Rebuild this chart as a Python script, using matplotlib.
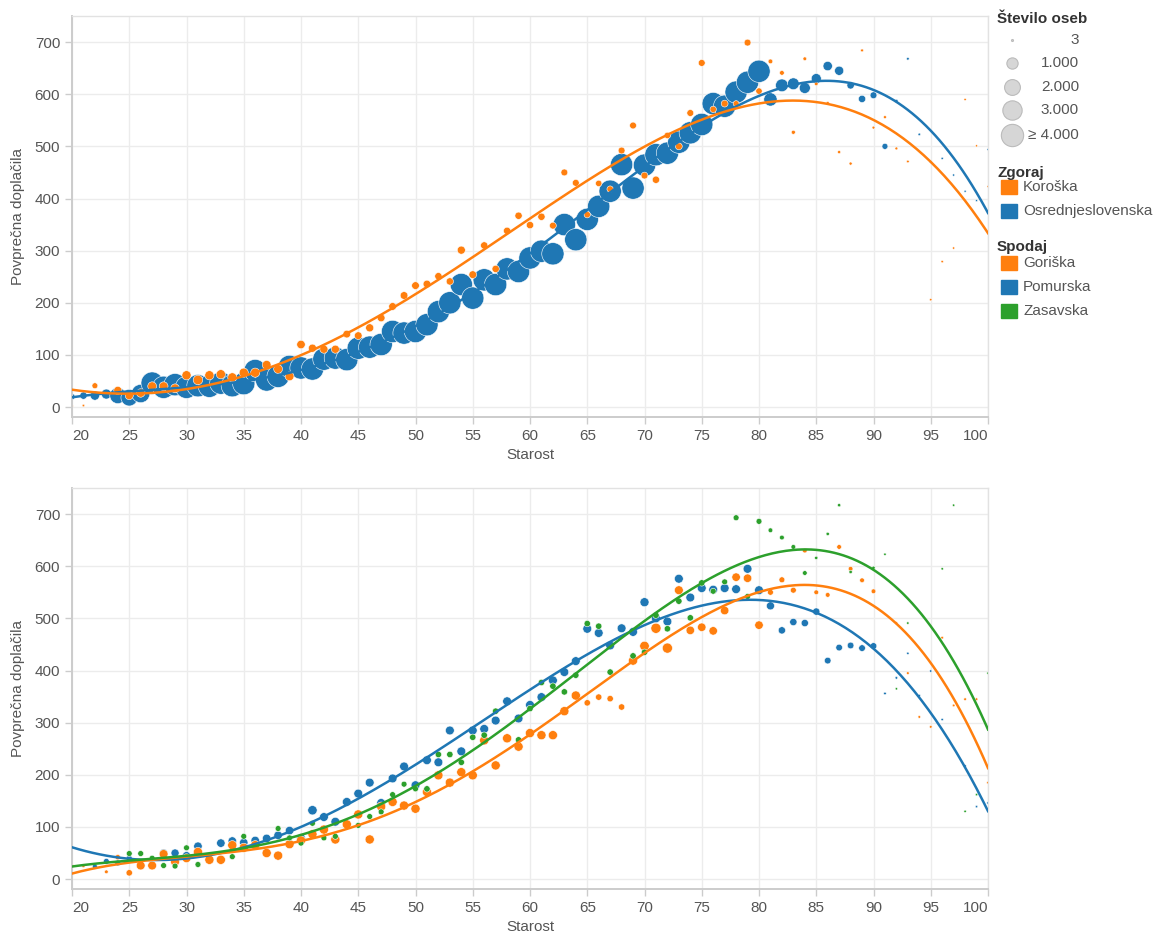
import numpy as np
import matplotlib
matplotlib.use("Agg")
import matplotlib.pyplot as plt

plt.rcParams['font.family'] = ['Liberation Sans', 'DejaVu Sans']

nan = np.nan
ages = np.arange(20, 101)

# --- zgoraj (top panel) ---
koroska = [2, 3, 41, nan, 32, 22, 27, 40, 40, 36,
           61, 52, 61, 63, 57, 66, 66, 81, 73, 59,
           120, 113, 111, 111, 140, 137, 152, 171, 193, 214,
           233, 236, 251, 241, 301, 254, 310, 265, 338, 367,
           349, 365, 348, 450, 430, 369, 429, 418, 492, 540,
           444, 436, 521, 500, 564, 660, 571, 582, 582, 699,
           606, 663, 641, 527, 668, 620, 583, 489, 467, 684,
           536, 556, 496, 471, nan, 206, 279, 305, 590, 501,
           423]
koroska_n = [20, 25, 250, 0, 500, 500, 550, 600, 600, 600,
             650, 700, 650, 650, 650, 650, 650, 600, 600, 600,
             550, 500, 500, 500, 450, 450, 500, 450, 450, 450,
             450, 450, 400, 400, 500, 450, 400, 400, 400, 400,
             400, 400, 350, 350, 350, 300, 300, 300, 350, 350,
             350, 400, 300, 350, 350, 350, 300, 350, 250, 350,
             300, 150, 150, 100, 80, 80, 50, 50, 50, 40,
             40, 40, 40, 30, 0, 20, 20, 15, 15, 10,
             5]

osrednjeslovenska = [20, 22, 22, 25, 22, 18, 26, 46, 38, 43,
                     38, 41, 40, 46, 41, 45, 70, 52, 59, 78,
                     75, 73, 92, 94, 91, 113, 115, 120, 145, 142,
                     145, 158, 183, 200, 235, 209, 244, 235, 265, 260,
                     286, 299, 294, 350, 321, 360, 385, 414, 465, 420,
                     464, 484, 487, 508, 526, 542, 582, 577, 604, 623,
                     644, 590, 617, 620, 612, 630, 654, 645, 617, 591,
                     598, 500, 587, 668, 523, 470, 477, 445, 414, 396,
                     494]
osrednjeslovenska_n = [260, 400, 650, 780, 2050, 2200, 2700, 4500, 4200, 4300,
                       4400, 4500, 4600, 4600, 4700, 4700, 4800, 4800, 4800, 4900,
                       4900, 5000, 5000, 5000, 5100, 5100, 5200, 5200, 5300, 5300,
                       5300, 5400, 5400, 5400, 5500, 5500, 5500, 5500, 5400, 5400,
                       5300, 5200, 5100, 5000, 4900, 4800, 4700, 4600, 4500, 4400,
                       4300, 4200, 4100, 4100, 4000, 4000, 4000, 4000, 4000, 4000,
                       4000, 1400, 1280, 1100, 950, 780, 680, 650, 410, 400,
                       350, 260, 60, 30, 25, 20, 15, 12, 10, 8,
                       6]

# --- spodaj (bottom panel) ---
goriska = [26, 25, nan, 14, 42, 12, 26, 26, 48, 33,
           40, 52, 37, 37, 65, 60, 65, 50, 45, 67,
           74, 86, 95, 76, 105, 124, 76, 139, 148, 141,
           135, 167, 199, 185, 205, 199, 266, 218, 270, 254,
           280, 276, 276, 322, 352, 338, 349, 346, 330, 419,
           447, 481, 443, 554, 477, 483, 476, 515, 579, 577,
           487, 550, 574, 554, 630, 550, 545, 637, 595, 573,
           552, nan, 491, 395, 311, 292, 463, 333, 345, 345,
           185]
goriska_n = [50, 50, 0, 80, 200, 300, 600, 600, 600, 600,
             600, 650, 650, 650, 650, 650, 650, 650, 650, 650,
             650, 650, 650, 650, 650, 650, 650, 650, 650, 650,
             650, 650, 650, 650, 650, 650, 650, 650, 650, 650,
             650, 650, 650, 650, 650, 300, 300, 300, 300, 650,
             700, 800, 800, 600, 550, 550, 550, 550, 550, 550,
             550, 250, 250, 250, 150, 150, 150, 150, 150, 150,
             150, 0, 30, 30, 30, 30, 30, 30, 30, 30,
             30]

pomurska = [nan, nan, 24, 34, 31, 40, nan, nan, 50, 50,
            45, 63, nan, 69, 73, 70, 74, 78, 84, 93,
            79, 132, 119, 110, 148, 164, 185, 146, 193, 216,
            180, 228, 224, 285, 245, 285, 288, 304, 341, 308,
            334, 349, 381, 397, 418, 480, 472, 448, 481, 474,
            531, 500, 494, 576, 540, 558, 555, 558, 556, 595,
            554, 524, 477, 493, 491, 513, 419, 444, 448, 443,
            447, 356, 386, 433, 352, 399, 306, nan, 217, 139,
            146]
pomurska_n = [0, 0, 170, 250, 250, 250, 0, 0, 500, 500,
              500, 550, 0, 550, 550, 550, 550, 550, 550, 550,
              550, 680, 600, 600, 600, 600, 600, 600, 600, 600,
              600, 600, 600, 600, 600, 600, 600, 600, 600, 600,
              600, 600, 600, 600, 600, 600, 600, 600, 600, 600,
              630, 600, 600, 600, 600, 600, 600, 600, 600, 600,
              600, 500, 400, 400, 400, 400, 330, 330, 330, 330,
              330, 30, 30, 20, 20, 20, 20, 0, 20, 20,
              20]

zasavska = [nan, nan, nan, nan, nan, 49, 49, 40, 26, 25,
            60, 28, nan, nan, 43, 82, nan, nan, 97, 79,
            69, 107, 79, 82, nan, 103, 120, 129, 162, 182,
            173, 173, 239, 239, 224, 272, 276, 322, nan, 267,
            327, 377, 370, 359, 391, 490, 485, 397, nan, 428,
            435, 506, 480, 533, 501, 568, 552, 570, 693, 542,
            686, 669, 655, 637, 587, 616, 662, 717, 589, nan,
            597, 623, 365, 491, nan, nan, 595, 717, 130, 162,
            395]
zasavska_n = [0, 0, 0, 0, 0, 250, 250, 250, 250, 250,
              250, 250, 0, 0, 250, 250, 0, 0, 250, 250,
              250, 250, 250, 250, 0, 250, 250, 250, 250, 250,
              250, 300, 300, 300, 300, 300, 300, 300, 0, 300,
              300, 300, 300, 300, 300, 300, 300, 300, 0, 300,
              300, 300, 300, 300, 300, 300, 250, 250, 250, 250,
              250, 150, 150, 150, 150, 60, 60, 60, 60, 0,
              60, 20, 20, 20, 0, 0, 20, 20, 20, 20,
              20]

size_legend = [3, 1000, 2000, 3000, 4000]
size_labels = ['3', '1.000', '2.000', '3.000', '≥ 4.000']

ORANGE = '#ff7f0e'
BLUE = '#1f77b4'
GREEN = '#2ca02c'
TEXT = '#555555'
FS = 11

top_series = [(osrednjeslovenska, osrednjeslovenska_n, BLUE),
              (koroska, koroska_n, ORANGE)]
bottom_series = [(pomurska, pomurska_n, BLUE),
                 (goriska, goriska_n, ORANGE),
                 (zasavska, zasavska_n, GREEN)]
TREND_DEGREE = 4


def marker_area(n):
    # circle area grows linearly with the count, capped at 4000
    n = np.minimum(np.asarray(n, dtype=float), 4000)
    d_px = np.sqrt(3.6 + 0.1233 * n)
    return (d_px * 0.72) ** 2


W, H = 1160, 933
fig = plt.figure(figsize=(W / 100, H / 100), dpi=100)


def style_axes(ax):
    ax.set_xlim(20, 100)
    ax.set_ylim(-19, 750)
    ax.set_xticks(np.arange(20, 101, 5))
    ax.set_yticks(np.arange(0, 701, 100))
    ax.grid(True, color='#ececec', lw=1)
    ax.set_axisbelow(True)
    for side in ['top', 'right']:
        ax.spines[side].set_color('#e2e2e2')
        ax.spines[side].set_linewidth(1)
    for side in ['left', 'bottom']:
        ax.spines[side].set_color('#cccccc')
        ax.spines[side].set_linewidth(1.4)
    ax.tick_params(colors='#cccccc', labelcolor=TEXT, labelsize=FS,
                   length=5, width=1)
    labels = ax.get_xticklabels()
    labels[0].set_horizontalalignment('left')
    labels[-1].set_horizontalalignment('right')
    ax.set_xlabel('Starost', color=TEXT, fontsize=FS, labelpad=4)
    ax.set_ylabel('Povprečna doplačila', color=TEXT, fontsize=FS, labelpad=7)


def draw_panel(ax, series):
    for vals, counts, color in series:
        y = np.asarray(vals, dtype=float)
        ok = ~np.isnan(y)
        ax.scatter(ages[ok], y[ok], s=marker_area(np.asarray(counts)[ok]),
                   color=color, edgecolors='white', linewidths=0.4, zorder=2)
    # polynomial trend line per region
    xs = np.linspace(20, 100, 400)
    for vals, counts, color in series:
        y = np.asarray(vals, dtype=float)
        ok = ~np.isnan(y)
        coef = np.polyfit(ages[ok], y[ok], TREND_DEGREE)
        ax.plot(xs, np.polyval(coef, xs), color=color, lw=1.8, zorder=3)
    style_axes(ax)


ax_top = fig.add_axes([72 / W, 1 - 417 / H, 916 / W, 401 / H])
draw_panel(ax_top, top_series)

ax_bot = fig.add_axes([72 / W, 1 - 889 / H, 916 / W, 401 / H])
draw_panel(ax_bot, bottom_series)

# legend panel drawn in pixel coordinates
lg = fig.add_axes([990 / W, 1 - 330 / H, 170 / W, 330 / H])
lg.set_xlim(990, 1160)
lg.set_ylim(330, 0)
lg.axis('off')

lg.text(997, 19, 'Število oseb', fontsize=FS, fontweight='bold',
        color='#333333', va='center')
for i, (n, lab) in enumerate(zip(size_legend, size_labels)):
    yy = [40, 63, 87, 110, 135][i]
    lg.scatter([1012], [yy], s=marker_area(n), color='#d6d6d6',
               edgecolors='#bbbbbb', linewidths=0.8, clip_on=False)
    lg.text(1079, yy, lab, fontsize=FS, color=TEXT, ha='right', va='center')

groups = [('Zgoraj', 173, [('Koroška', ORANGE, 187), ('Osrednjeslovenska', BLUE, 211)]),
          ('Spodaj', 247, [('Goriška', ORANGE, 263), ('Pomurska', BLUE, 287),
                           ('Zasavska', GREEN, 311)])]
for title, ty, items in groups:
    lg.text(997, ty, title, fontsize=FS, fontweight='bold', color='#333333',
            va='center')
    for name, color, yy in items:
        lg.add_patch(plt.Rectangle((1001, yy - 7), 16, 14, color=color,
                                   clip_on=False))
        lg.text(1023, yy, name, fontsize=FS, color=TEXT, va='center')

fig.savefig('out.png', dpi=100)
